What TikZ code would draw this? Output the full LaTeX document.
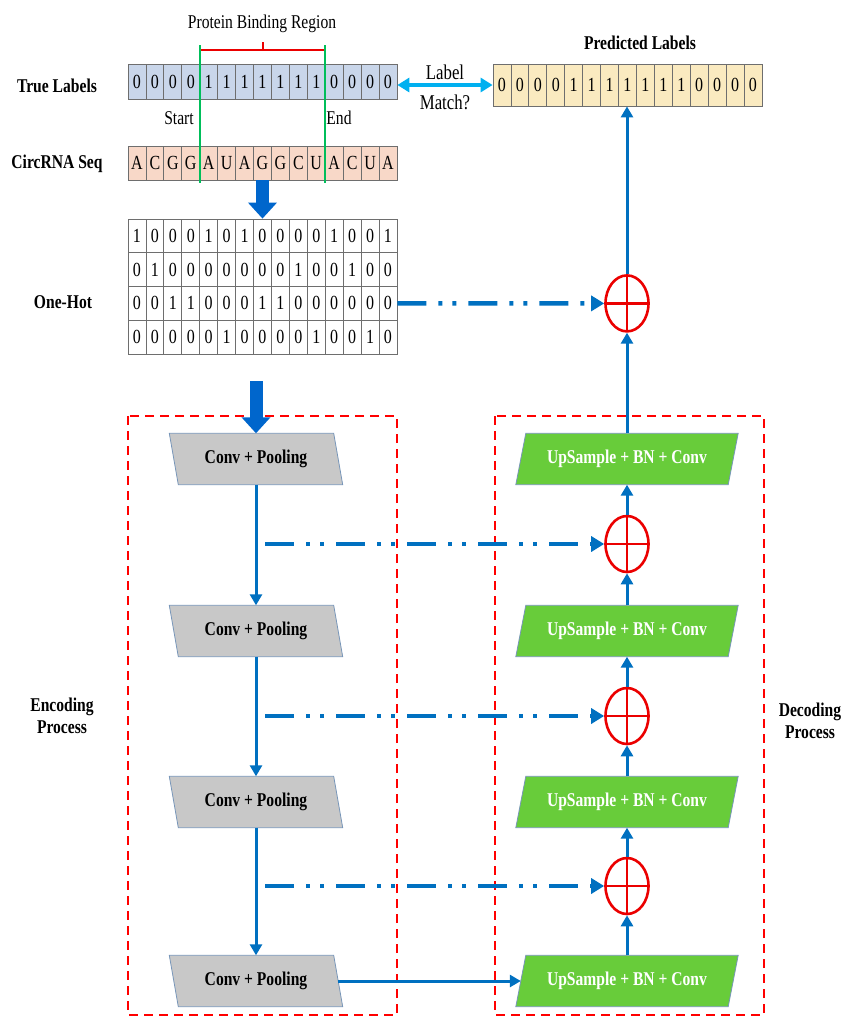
\documentclass[tikz,border=0pt]{standalone}
\usepackage{fontspec}
\setmainfont[FakeStretch=0.8]{Liberation Serif}
\usetikzlibrary{arrows.meta,shapes.geometric,calc}
\definecolor{tlfill}{RGB}{201,214,234}
\definecolor{sqfill}{RGB}{248,216,200}
\definecolor{plfill}{RGB}{250,234,192}
\definecolor{cellline}{RGB}{110,110,110}
\definecolor{arrblue}{RGB}{0,112,192}
\definecolor{bigblue}{RGB}{0,102,204}
\definecolor{cyanarr}{RGB}{0,176,240}
\definecolor{grnline}{RGB}{0,190,90}
\definecolor{boxgray}{RGB}{200,200,200}
\definecolor{boxgreen}{RGB}{104,204,58}
\definecolor{boxedge}{RGB}{120,150,185}
\definecolor{redc}{RGB}{235,0,0}
\tikzset{
  lbl/.style={font=\fontsize{19.5}{22}\selectfont\bfseries, align=center},
  txt/.style={font=\fontsize{19.5}{22}\selectfont},
  cell/.style={draw=cellline, line width=0.8pt, minimum width=17.93pt, inner sep=0pt, font=\fontsize{20}{22}\selectfont},
  barrow/.style={draw=arrblue, line width=3pt, -{Triangle[width=12pt,length=11pt]}},
  dd/.style={draw=arrblue, line width=4.5pt, dash pattern=on 29pt off 12pt on 4pt off 10pt on 4pt off 12pt, -{Triangle[width=15pt,length=13pt]}},
  bigarrow/.style={draw=bigblue, line width=13pt, -{Triangle[width=28pt,length=16pt]}},
  oplus/.style={ellipse, draw=redc, line width=2.6pt, minimum width=43pt, minimum height=56pt, inner sep=0pt,
    path picture={\draw[redc,line width=2.6pt] (path picture bounding box.north) -- (path picture bounding box.south) (path picture bounding box.west) -- (path picture bounding box.east);}},
  procbox/.style={draw=red, line width=2pt, dash pattern=on 9pt off 6pt},
  encnode/.style={minimum width=164pt, minimum height=51pt, inner sep=0pt, font=\fontsize{19.5}{22}\selectfont\bfseries},
  decnode/.style={minimum width=212pt, minimum height=51pt, inner sep=0pt, text=white, font=\fontsize{19.5}{22}\selectfont\bfseries},
}
\begin{document}
\begin{tikzpicture}[x=1pt,y=-1pt]
\useasboundingbox (0,0) rectangle (845,1021);

% ---------- labels on left
\node[lbl] (ltl) at (57,86) {True Labels};
\node[lbl] (lsq) at (57,164) {CircRNA Seq};
\node[lbl] (loh) at (63,302) {One-Hot};
\node[lbl] (lenc) at (62,716) {Encoding\\Process};
\node[lbl] (ldec) at (810,721) {Decoding\\Process};
\node[lbl] (lpl) at (640,43) {Predicted Labels};
\node[txt] (lpbr) at (262,24) {Protein Binding Region};
\node[txt] (lstart) at (179,118) {Start};
\node[txt] (lend) at (339,118) {End};

% ---------- strips
\foreach \v [count=\i] in {0,0,0,0,1,1,1,1,1,1,1,0,0,0,0}
  \node[cell, fill=tlfill, minimum height=35pt] (tl-\i) at ({128+17.93*(\i-0.5)},81.5) {\v};
\foreach \v [count=\i] in {A,C,G,G,A,U,A,G,G,C,U,A,C,U,A}
  \node[cell, fill=sqfill, minimum height=34pt] (sq-\i) at ({128+17.93*(\i-0.5)},163) {\v};
\foreach \v [count=\i] in {0,0,0,0,1,1,1,1,1,1,1,0,0,0,0}
  \node[cell, fill=plfill, minimum height=42pt] (pl-\i) at ({493+17.93*(\i-0.5)},85) {\v};

% one-hot matrix
\foreach \row [count=\r] in {{1,0,0,0,1,0,1,0,0,0,0,1,0,0,1},{0,1,0,0,0,0,0,0,0,1,0,0,1,0,0},{0,0,1,1,0,0,0,1,1,0,0,0,0,0,0},{0,0,0,0,0,1,0,0,0,0,1,0,0,1,0}}
  \foreach \v [count=\i] in \row
    \node[cell, fill=white, minimum height=33.75pt] (oh-\r-\i) at ({128+17.93*(\i-0.5)},{219+33.75*(\r-0.5)}) {\v};

% ---------- bracket and green lines
\draw[redc, line width=2pt] (199.7,62) -- (199.7,50) -- (325.2,50) -- (325.2,62);
\draw[redc, line width=2pt] (262.5,50) -- (262.5,42);
\draw[grnline, line width=2pt] (199.7,45) -- (199.7,183);
\draw[grnline, line width=2pt] (325.2,45) -- (325.2,183);

% ---------- label match arrow
\draw[draw=cyanarr, line width=4pt, {Triangle[width=14pt,length=12pt]}-{Triangle[width=14pt,length=12pt]}] (tl-15.east |- pl-1.west) -- (pl-1.west);
\node[txt, font=\fontsize{21}{24}\selectfont] (lm1) at (445,72) {Label};
\node[txt, font=\fontsize{21}{24}\selectfont] (lm2) at (445,102) {Match?};

% ---------- big arrows
\draw[bigarrow] (sq-8.south) -- (oh-1-8.north);
\coordinate (bstart) at (256,381);

% ---------- process boxes
\draw[procbox] (128,416) rectangle (397,1015);
\draw[procbox] (495,416) rectangle (764,1015);

% encoder nodes
\foreach \n/\y in {1/459,2/631,3/802,4/981}{
  \node[encnode] (c\n) at (256,\y) {};
  \fill[boxgray] ($(c\n.north west)+(-4.5,0)$) -- ($(c\n.north east)+(-4.5,0)$) -- ($(c\n.south east)+(4.5,0)$) -- ($(c\n.south west)+(4.5,0)$) -- cycle;
  \draw[boxedge, line width=0.8pt] ($(c\n.north west)+(-4.5,0)$) -- ($(c\n.north east)+(-4.5,0)$) -- ($(c\n.south east)+(4.5,0)$) -- ($(c\n.south west)+(4.5,0)$) -- cycle;
  \node[encnode] at (c\n) {Conv + Pooling};
}
% decoder nodes
\foreach \n/\y in {1/459,2/631,3/802,4/981}{
  \node[decnode] (u\n) at (627,\y) {};
  \fill[boxgreen] ($(u\n.north west)+(5,0)$) -- ($(u\n.north east)+(5,0)$) -- ($(u\n.south east)+(-5,0)$) -- ($(u\n.south west)+(-5,0)$) -- cycle;
  \draw[boxedge, line width=0.8pt] ($(u\n.north west)+(5,0)$) -- ($(u\n.north east)+(5,0)$) -- ($(u\n.south east)+(-5,0)$) -- ($(u\n.south west)+(-5,0)$) -- cycle;
  \node[decnode] at (u\n) {UpSample + BN + Conv};
}

\draw[bigarrow] (bstart) -- (c1.north);

% oplus nodes
\node[oplus] (o0) at (627,303.4) {};
\node[oplus] (o1) at (627,544) {};
\node[oplus] (o2) at (627,716) {};
\node[oplus] (o3) at (627,886) {};

% encoder arrows
\draw[barrow] (c1.south) -- (c2.north);
\draw[barrow] (c2.south) -- (c3.north);
\draw[barrow] (c3.south) -- (c4.north);
\draw[barrow] (c4.east) -- (u4.west);

% decoder arrows
\draw[barrow] (u4.north) -- (o3.south);
\draw[barrow] (o3.north) -- (u3.south);
\draw[barrow] (u3.north) -- (o2.south);
\draw[barrow] (o2.north) -- (u2.south);
\draw[barrow] (u2.north) -- (o1.south);
\draw[barrow] (o1.north) -- (u1.south);
\draw[barrow] (u1.north) -- (o0.south);
\draw[barrow] (o0.north) -- (o0.north |- pl-8.south);

% skip connections
\coordinate (s1) at (265,544);
\coordinate (s2) at (265,716);
\coordinate (s3) at (265,886);
\draw[dd] (oh-3-15.east) -- (o0.west);
\draw[dd] (s1) -- (o1.west);
\draw[dd] (s2) -- (o2.west);
\draw[dd] (s3) -- (o3.west);
\end{tikzpicture}
\end{document}
